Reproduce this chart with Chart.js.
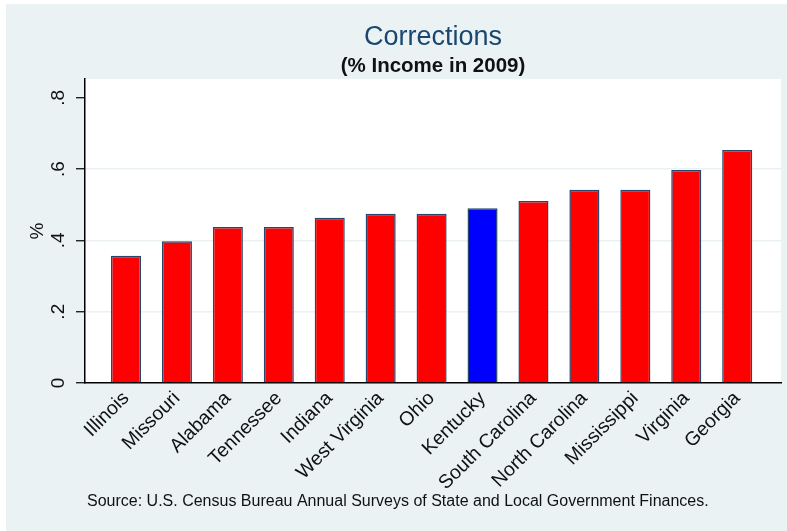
<!DOCTYPE html>
<html>
<head>
<meta charset="utf-8">
<script src="https://cdn.jsdelivr.net/npm/chart.js@4.4.1/dist/chart.umd.min.js"></script>
<style>
  html, body { margin: 0; padding: 0; background: #fff; }
  canvas { display: block; }
</style>
</head>
<body>
<canvas id="chart" width="787" height="531"></canvas>
<script>
// Corrections spending as % of income, 2009 (sorted low to high)
const states = ['Illinois', 'Missouri', 'Alabama', 'Tennessee', 'Indiana', 'West Virginia', 'Ohio',
                'Kentucky', 'South Carolina', 'North Carolina', 'Mississippi', 'Virginia', 'Georgia'];
const pctIncome = [0.357, 0.398, 0.438, 0.438, 0.464, 0.475, 0.475, 0.490, 0.511, 0.542, 0.542, 0.598, 0.654];
const highlight = 'Kentucky';

const yTicks = [0, 0.2, 0.4, 0.6, 0.8];
const yTickLabels = ['0', '.2', '.4', '.6', '.8'];

const titleText = 'Corrections';
const subtitleText = '(% Income in 2009)';
const noteText = 'Source: U.S. Census Bureau Annual Surveys of State and Local Government Finances.';

const FONT = '"Liberation Sans", Arial, Helvetica, sans-serif';

// Stata-like backdrop, titles and source note
const frame = {
    id: 'frame',
    beforeDraw(chart) {
        const { ctx, chartArea: a } = chart;
        ctx.save();
        ctx.fillStyle = '#ffffff';
        ctx.fillRect(0, 0, chart.width, chart.height);
        ctx.fillStyle = '#eaf2f3';
        ctx.fillRect(6, 4, chart.width - 6, chart.height - 4);
        ctx.fillStyle = '#ffffff';
        ctx.fillRect(a.left, a.top, a.right - a.left, a.bottom - a.top);
        ctx.restore();
    },
    afterDraw(chart) {
        const { ctx, chartArea: a } = chart;
        const cx = (a.left + a.right) / 2;
        ctx.save();
        ctx.textAlign = 'center';
        ctx.textBaseline = 'alphabetic';
        ctx.fillStyle = '#1a476f';
        ctx.font = '27px ' + FONT;
        ctx.fillText(titleText, cx, 45);
        ctx.fillStyle = '#111111';
        ctx.font = 'bold 20.5px ' + FONT;
        ctx.fillText(subtitleText, cx, 72);
        ctx.textAlign = 'left';
        ctx.font = '16px ' + FONT;
        ctx.fillText(noteText, 87, 506);
        ctx.restore();
    }
};

const ctx = document.getElementById('chart');

new Chart(ctx, {
    type: 'bar',
    data: {
        datasets: [{
            data: pctIncome.map((v, i) => ({ x: i, y: v })),
            backgroundColor: states.map(s => s === highlight ? '#0000ff' : '#ff0000'),
            borderColor: '#26466d',
            borderWidth: 1.5,
            barPercentage: 0.59,
            categoryPercentage: 1
        }]
    },
    options: {
        responsive: false,
        devicePixelRatio: 1,
        animation: false,
        events: [],
        layout: { padding: { left: 0, right: 6, top: 79, bottom: 0 } },
        plugins: {
            legend: { display: false },
            tooltip: { enabled: false }
        },
        scales: {
            x: {
                type: 'linear',
                offset: false,
                min: -0.805,
                max: 12.86,
                afterBuildTicks: (scale) => {
                    scale.ticks = states.map((_, i) => ({ value: i }));
                },
                afterFit: (scale) => { scale.height = 148; },
                grid: { display: false, drawTicks: false },
                border: { display: true, color: '#000000', width: 1.5 },
                ticks: {
                    autoSkip: false,
                    maxRotation: 45,
                    minRotation: 45,
                    padding: 4,
                    color: '#111111',
                    font: { family: FONT, size: 19.5 },
                    callback: (v) => states[v]
                }
            },
            y: {
                min: 0,
                max: 0.853,
                afterBuildTicks: (scale) => {
                    scale.ticks = yTicks.map(v => ({ value: v }));
                },
                afterFit: (scale) => { scale.width = 85; },
                grid: {
                    color: (c) => (c.tick && c.tick.value > 0 && c.tick.value < 0.8) ? '#eaf2f3' : 'rgba(0,0,0,0)',
                    lineWidth: 1.5,
                    tickColor: '#000000',
                    tickLength: 9,
                    tickWidth: 1.2
                },
                border: { display: true, color: '#000000', width: 1.5 },
                ticks: {
                    minRotation: 90,
                    maxRotation: 90,
                    crossAlign: 'center',
                    padding: 9.5,
                    color: '#111111',
                    font: { family: FONT, size: 19 },
                    callback: (v, i) => yTickLabels[i]
                },
                title: {
                    display: true,
                    text: '%',
                    color: '#111111',
                    font: { family: FONT, size: 19 },
                    padding: { top: 26, bottom: 0 }
                }
            }
        }
    },
    plugins: [frame]
});
</script>
</body>
</html>
